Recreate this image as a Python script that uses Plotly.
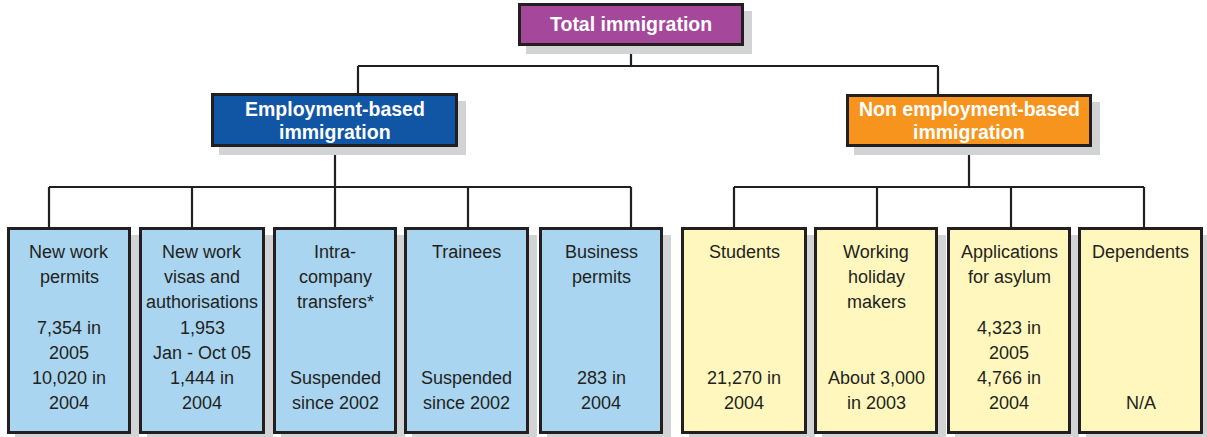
import plotly.graph_objects as go

# ---- data (text content) ----
top_label = ["Total immigration"]
group_labels = [["Employment-based", "immigration"],
                ["Non employment-based", "immigration"]]
leaf_titles = [["New work", "permits"],
               ["New work", "visas and", "authorisations"],
               ["Intra-", "company", "transfers*"],
               ["Trainees"],
               ["Business", "permits"],
               ["Students"],
               ["Working", "holiday", "makers"],
               ["Applications", "for asylum"],
               ["Dependents"]]
leaf_values = [["7,354 in", "2005", "10,020 in", "2004"],
               ["1,953", "Jan - Oct 05", "1,444 in", "2004"],
               ["Suspended", "since 2002"],
               ["Suspended", "since 2002"],
               ["283 in", "2004"],
               ["21,270 in", "2004"],
               ["About 3,000", "in 2003"],
               ["4,323 in", "2005", "4,766 in", "2004"],
               ["N/A"]]
leaf_group = [0, 0, 0, 0, 0, 1, 1, 1, 1]

# ---- layout geometry (pixels) ----
W, H = 1207, 437
top_box = (518, 3, 744, 46)
group_boxes = [(211, 93, 458, 147), (846, 94, 1092, 147)]
leaf_left = [7, 139, 273, 404, 539, 681, 814, 947, 1078]
leaf_right = [131, 265, 397, 529, 663, 807, 938, 1071, 1203]
leaf_top, leaf_bot = 227, 434
leaf_conn_x = [49, 192, 335, 468, 631, 734, 877, 1011, 1144]
top_conn_x = 631
top_bar_y = 66
group_conn_top_x = [358, 938]
group_conn_bot_x = [335, 969]
leaf_bar_y = 187

TOP_COLOR = "#a5479a"
GROUP_COLORS = ["#1155a5", "#f7941e"]
LEAF_COLORS = ["#a9d5f0", "#fff7bd"]
EDGE = "#231f20"
SHADOW = "#d1d3d4"
SH = 8
FONT = "Liberation Sans"

shapes = []
annotations = []


def line(x0, y0, x1, y1):
    shapes.append(dict(type="line", x0=x0, y0=y0, x1=x1, y1=y1,
                       line=dict(color=EDGE, width=2.2)))


def box(b, fill):
    x0, y0, x1, y1 = b
    shapes.append(dict(type="rect", x0=x0 + SH, y0=y0 + SH, x1=x1 + SH, y1=y1 + SH,
                       fillcolor=SHADOW, line=dict(width=0)))
    return dict(type="rect", x0=x0 + 1.5, y0=y0 + 1.5, x1=x1 - 1.5, y1=y1 - 1.5,
                fillcolor=fill, line=dict(color=EDGE, width=3))


def text(x, y, s, size, color, bold=False):
    annotations.append(dict(x=x, y=y, xref="x", yref="y", text=f"<b>{s}</b>" if bold else s,
                            showarrow=False, xanchor="center", yanchor="middle",
                            font=dict(family=FONT, size=size, color=color)))


# connectors
line(top_conn_x, top_box[3], top_conn_x, top_bar_y)
line(group_conn_top_x[0], top_bar_y, group_conn_top_x[1], top_bar_y)
for gi, gx in enumerate(group_conn_top_x):
    line(gx, top_bar_y, gx, group_boxes[gi][1])
for gi, gx in enumerate(group_conn_bot_x):
    xs = [leaf_conn_x[i] for i in range(len(leaf_group)) if leaf_group[i] == gi]
    line(gx, group_boxes[gi][3], gx, leaf_bar_y)
    line(min(xs), leaf_bar_y, max(xs), leaf_bar_y)
for x in leaf_conn_x:
    line(x, leaf_bar_y, x, leaf_top)

# boxes (shadow then box)
rects = []
rects.append(box(top_box, TOP_COLOR))
for gi, gb in enumerate(group_boxes):
    rects.append(box(gb, GROUP_COLORS[gi]))
for i in range(len(leaf_titles)):
    rects.append(box((leaf_left[i], leaf_top, leaf_right[i], leaf_bot), LEAF_COLORS[leaf_group[i]]))
shapes.extend(rects)

# text
text((top_box[0] + top_box[2]) / 2, 24, top_label[0], 19.5, "white", bold=True)
for gi, gb in enumerate(group_boxes):
    cx = (gb[0] + gb[2]) / 2
    for k, s in enumerate(group_labels[gi]):
        text(cx, 108.5 + k * 23.5, s, 19.5, "white", bold=True)

LINE0, STEP, NLINES = 252, 25.2, 7
for i in range(len(leaf_titles)):
    cx = (leaf_left[i] + leaf_right[i]) / 2
    for k, s in enumerate(leaf_titles[i]):
        text(cx, LINE0 + k * STEP, s, 18, EDGE)
    vals = leaf_values[i]
    start = NLINES - len(vals)
    for k, s in enumerate(vals):
        text(cx, LINE0 + (start + k) * STEP, s, 18, EDGE)

fig = go.Figure()
fig.update_layout(
    width=W, height=H, margin=dict(l=0, r=0, t=0, b=0),
    paper_bgcolor="white", plot_bgcolor="white",
    xaxis=dict(range=[0, W], visible=False, fixedrange=True),
    yaxis=dict(range=[H, 0], visible=False, fixedrange=True),
    shapes=shapes, annotations=annotations, showlegend=False,
)
fig.write_html("out.html", config={"displayModeBar": False},
               post_script="document.body.style.margin='0';document.body.style.overflow='hidden';")
